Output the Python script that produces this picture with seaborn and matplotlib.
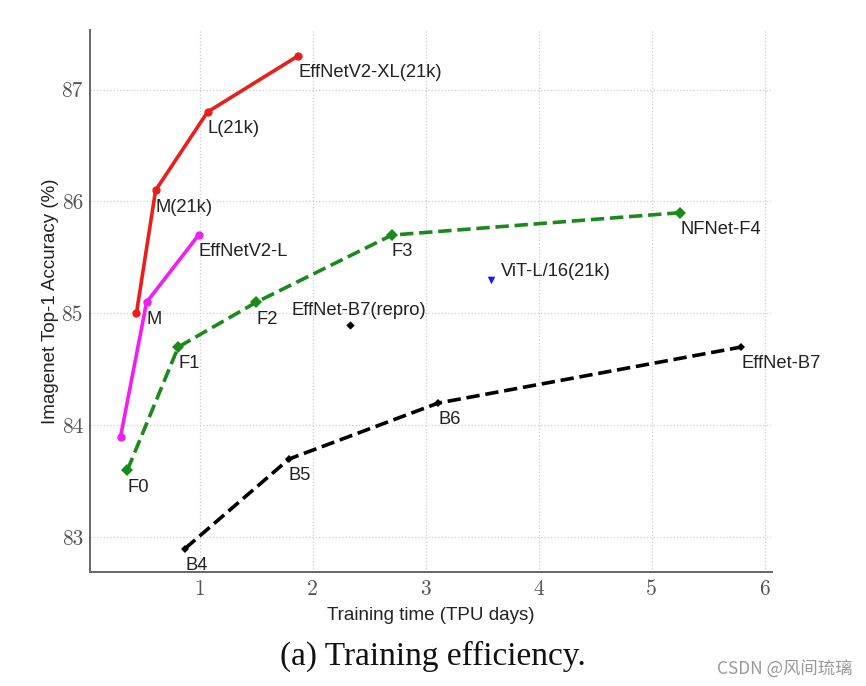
import matplotlib
matplotlib.use("Agg")
import matplotlib.pyplot as plt
import seaborn as sns

# EffNetV2 pretrained on ImageNet21k
v2_21k_time = [0.44, 0.61, 1.07, 1.87]
v2_21k_acc = [85.0, 86.1, 86.8, 87.3]
v2_21k_labels = ["", "M(21k)", "L(21k)", "EffNetV2-XL(21k)"]

# EffNetV2 (ImageNet only)
v2_time = [0.30, 0.53, 0.99]
v2_acc = [83.9, 85.1, 85.7]
v2_labels = ["", "M", "EffNetV2-L"]

# NFNet
nf_time = [0.36, 0.81, 1.50, 2.70, 5.25]
nf_acc = [83.6, 84.7, 85.1, 85.7, 85.9]
nf_labels = ["F0", "F1", "F2", "F3", "NFNet-F4"]

# EfficientNet B4-B7
eb_time = [0.87, 1.79, 3.11, 5.79]
eb_acc = [82.9, 83.7, 84.2, 84.7]
eb_labels = ["B4", "B5", "B6", "EffNet-B7"]

repro_time = [2.33]
repro_acc = [84.9]
vit_time = [3.58]
vit_acc = [85.3]

sns.set_style("white")
plt.rcParams["font.family"] = ["Liberation Sans", "DejaVu Sans"]

fig = plt.figure(figsize=(8.66, 6.86), dpi=100)
ax = fig.add_axes([0.104, 0.166, 0.787, 0.790])

sns.lineplot(x=v2_21k_time, y=v2_21k_acc, ax=ax, color="#e8201c", lw=2.6,
             marker="o", markersize=6, markeredgewidth=0, sort=False)
sns.lineplot(x=v2_time, y=v2_acc, ax=ax, color="#f01ef0", lw=2.6,
             marker="o", markersize=6, markeredgewidth=0, sort=False)
sns.lineplot(x=nf_time, y=nf_acc, ax=ax, color="#1a8a1a", lw=2.6, ls="--",
             dashes=(4, 2.2), marker="D", markersize=6, markeredgewidth=0, sort=False)
sns.lineplot(x=eb_time, y=eb_acc, ax=ax, color="black", lw=2.6, ls="--",
             dashes=(4, 2.2), marker="D", markersize=4.5, markeredgewidth=0, sort=False)
sns.scatterplot(x=repro_time, y=repro_acc, ax=ax, color="black", marker="D", s=18, linewidth=0)
sns.scatterplot(x=vit_time, y=vit_acc, ax=ax, color="#1a1aff", marker="v", s=30, linewidth=0)

lab_kw = dict(textcoords="offset points", fontsize=13.2, color="#222222", va="top", ha="left")
for xs, ys, ls in [(v2_21k_time, v2_21k_acc, v2_21k_labels), (v2_time, v2_acc, v2_labels),
                   (nf_time, nf_acc, nf_labels), (eb_time, eb_acc, eb_labels)]:
    for x, y, t in zip(xs, ys, ls):
        if t:
            ax.annotate(t, (x, y), xytext=(0, -6), **lab_kw)
ax.annotate("EffNet-B7(repro)", (repro_time[0], repro_acc[0]), xytext=(-42, 4),
            textcoords="offset points", fontsize=13.2, color="#222222", va="bottom", ha="left")
ax.annotate("ViT-L/16(21k)", (vit_time[0], vit_acc[0]), xytext=(7, 0),
            textcoords="offset points", fontsize=13.2, color="#222222", va="bottom", ha="left")

ax.set_xlim(0.03, 6.06)
ax.set_ylim(82.69, 87.53)
ax.set_xticks([1, 2, 3, 4, 5, 6])
ax.set_yticks([83, 84, 85, 86, 87])
ax.grid(True, ls=":", color="#cccccc", lw=0.9)
for s in ["top", "right"]:
    ax.spines[s].set_visible(False)
for s in ["left", "bottom"]:
    ax.spines[s].set_color("#666666")
    ax.spines[s].set_linewidth(1.4)
ax.tick_params(axis="both", which="major", length=3, width=1, color="#666666",
               labelsize=15.5, labelcolor="#555555", direction="out", pad=2)
for lbl in ax.get_xticklabels() + ax.get_yticklabels():
    lbl.set_family(["cmr10", "DejaVu Serif"])

ax.set_xlabel("Training time (TPU days)", fontsize=13.5, color="#222222", labelpad=6)
ax.set_ylabel("Imagenet Top-1 Accuracy (%)", fontsize=13.5, color="#222222", labelpad=2)

fig.text(0.5, 0.031, "(a) Training efficiency.", fontsize=24, ha="center",
         family=["Liberation Serif", "DejaVu Serif"], color="#111111")
fig.text(0.984, 0.016, "CSDN @风间琉璃", fontsize=12.5, ha="right", color="#999999",
         family=["Noto Sans CJK SC", "DejaVu Sans"])

fig.savefig("out.png", dpi=100)
